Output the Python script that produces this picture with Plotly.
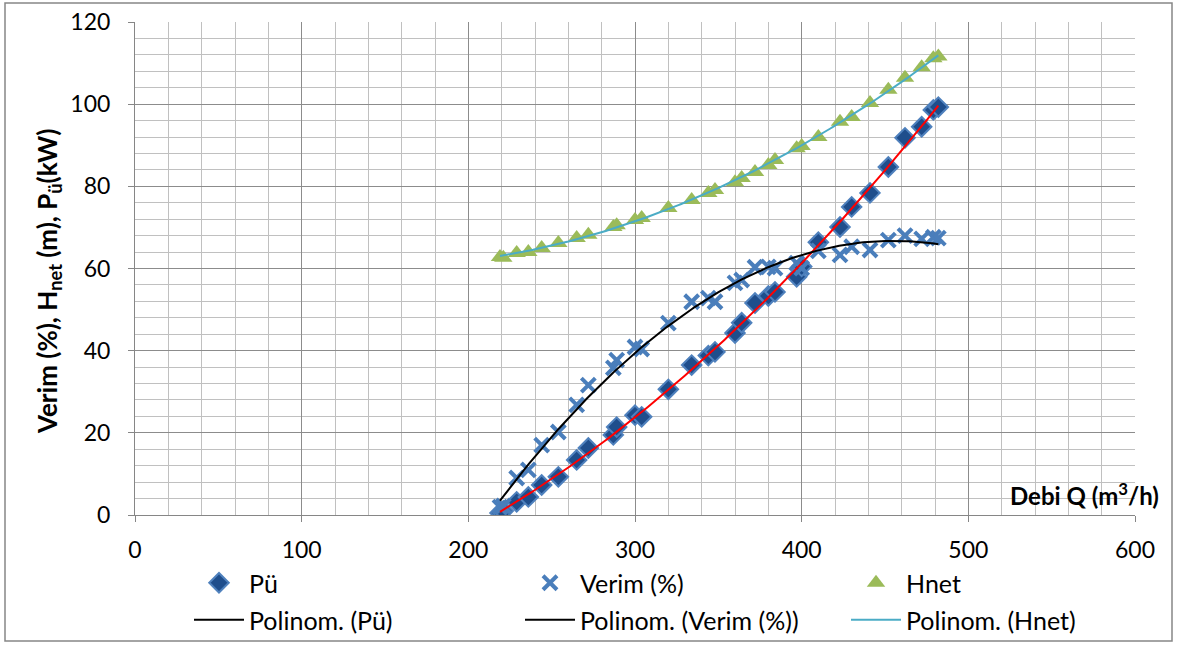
import numpy as np
import plotly.graph_objects as go

# ---------------- data ----------------
debi_q = [219, 221, 229, 236, 244, 254, 265, 272, 287, 289, 300, 304, 320, 334, 344, 348,
          360, 364, 372, 380, 384, 397, 400, 410, 423, 430, 441, 452, 462, 472, 479, 482]
p_u = [0.5, 1.0, 3.2, 4.4, 7.3, 9.3, 13.4, 16.3, 19.5, 21.4, 24.3, 23.9, 30.6, 36.5, 38.8, 39.7,
       44.3, 46.8, 51.6, 53.3, 54.3, 58.0, 60.5, 66.4, 70.1, 75.0, 78.4, 84.7, 91.8, 94.5, 98.6, 99.3]
verim = [1.9, 2.2, 9.0, 11.0, 17.0, 20.2, 26.8, 31.6, 35.8, 37.7, 40.9, 40.4, 46.7, 51.9, 52.8, 51.9,
         56.5, 57.2, 60.3, 60.4, 60.1, 61.3, 60.1, 64.3, 63.3, 65.3, 64.5, 66.9, 68.0, 67.2, 67.6, 67.4]
h_net = [62.8, 62.6, 63.8, 64.0, 65.0, 66.2, 67.4, 68.2, 70.1, 70.5, 71.8, 72.3, 74.7, 76.7, 78.4, 79.1,
         81.0, 82.0, 83.5, 85.2, 86.4, 89.3, 89.8, 92.0, 95.7, 96.9, 100.3, 103.5, 106.4, 109.0, 111.2, 111.6]

x_ticks = [0, 100, 200, 300, 400, 500, 600]
y_ticks = [0, 20, 40, 60, 80, 100, 120]

# polynomial (2nd order) trend lines, as the spreadsheet's "Polinom." trendlines
q_arr = np.array(debi_q, dtype=float)
q_fit = np.linspace(q_arr.min(), q_arr.max(), 200)
pu_fit = np.polyval(np.polyfit(q_arr, p_u, 2), q_fit)
ver_fit = np.polyval(np.polyfit(q_arr, verim, 2), q_fit)
hn_fit = np.polyval(np.polyfit(q_arr, h_net, 2), q_fit)

# ---------------- layout geometry helpers ----------------
W, H = 1178, 646
L, R, T, B = 135, 43, 22, 131
PW, PH = W - L - R, H - T - B


def px_x(px):
    return (px - L) / PW


def px_y(py):
    return (H - B - py) / PH


FONT = "Lato"

fig = go.Figure()

# markers
fig.add_trace(go.Scatter(x=debi_q, y=p_u, mode="markers", name="Pü", legend="legend",
                         marker=dict(symbol="diamond", size=15, color="#1f4e8c",
                                     line=dict(color="#4f81bd", width=2))))
fig.add_trace(go.Scatter(x=debi_q, y=verim, mode="markers", name="Verim (%)", legend="legend2",
                         marker=dict(symbol="x-thin", size=14, color="#4a7ebb",
                                     line=dict(color="#4a7ebb", width=4))))
fig.add_trace(go.Scatter(x=debi_q, y=h_net, mode="markers", name="Hnet", legend="legend3",
                         marker=dict(symbol="triangle-up", size=16, color="#9bbb59",
                                     line=dict(width=0))))

# trend lines
fig.add_trace(go.Scatter(x=q_fit, y=pu_fit, mode="lines", showlegend=False,
                         line=dict(color="#ff0000", width=2)))
fig.add_trace(go.Scatter(x=q_fit, y=ver_fit, mode="lines", name="Polinom. (Verim (%))", legend="legend5",
                         line=dict(color="#000000", width=2)))
fig.add_trace(go.Scatter(x=q_fit, y=hn_fit, mode="lines", name="Polinom. (Hnet)", legend="legend6",
                         line=dict(color="#4bacc6", width=2)))
# legend entry for the Pü trendline (drawn black in the legend of the reference)
fig.add_trace(go.Scatter(x=[None], y=[None], mode="lines", name="Polinom. (Pü)", legend="legend4",
                         line=dict(color="#000000", width=2)))

leg_font = dict(family=FONT, size=25, color="#000000")
col_x = [189, 520, 846]
row_y = [583, 620]
legends = {}
names = ["legend", "legend2", "legend3", "legend4", "legend5", "legend6"]
for i, nm in enumerate(names):
    legends[nm] = dict(xref="container", yref="container",
                       x=col_x[i % 3] / W, y=1 - row_y[i // 3] / H, xanchor="left", yanchor="middle",
                       font=leg_font, bgcolor="rgba(0,0,0,0)", borderwidth=0, itemwidth=50)

axis_common = dict(showline=True, linecolor="#868686", linewidth=1, ticks="outside", ticklen=6,
                   tickcolor="#868686", showgrid=True, gridcolor="#8c8c8c", gridwidth=1,
                   zeroline=False, automargin=False,
                   tickfont=dict(family=FONT, size=23, color="#000000"))

fig.update_layout(
    width=W, height=H,
    margin=dict(l=L, r=R, t=T, b=B, autoexpand=False),
    paper_bgcolor="#ffffff", plot_bgcolor="#ffffff",
    font=dict(family=FONT, color="#000000"),
    xaxis=dict(range=[0, 600], tickvals=x_ticks, ticklabelstandoff=8, **axis_common,
               minor=dict(dtick=20, showgrid=True, gridcolor="#c0c0c0", gridwidth=1, ticks="")),
    yaxis=dict(range=[0, 120], tickvals=y_ticks, ticklabelstandoff=13, **axis_common,
               minor=dict(dtick=4, showgrid=True, gridcolor="#c0c0c0", gridwidth=1, ticks="")),
    **legends,
    annotations=[
        dict(text="<b>Verim (%), H<sub>net</sub> (m), P<sub>ü</sub>(kW)</b>", xref="paper", yref="paper",
             x=px_x(48), y=px_y(282), textangle=-90, showarrow=False, xanchor="center", yanchor="middle",
             font=dict(family=FONT, size=26, color="#000000")),
        dict(text="<b>Debi Q (m<sup>3</sup>/h)</b>", xref="paper", yref="paper",
             x=px_x(1161), y=px_y(494), showarrow=False, xanchor="right", yanchor="middle",
             font=dict(family=FONT, size=24, color="#000000")),
    ],
    shapes=[dict(type="rect", xref="paper", yref="paper", x0=px_x(5), x1=px_x(1172),
                 y0=px_y(641), y1=px_y(3), line=dict(color="#868686", width=1.5), layer="below")],
)

fig.write_html("out.html")
